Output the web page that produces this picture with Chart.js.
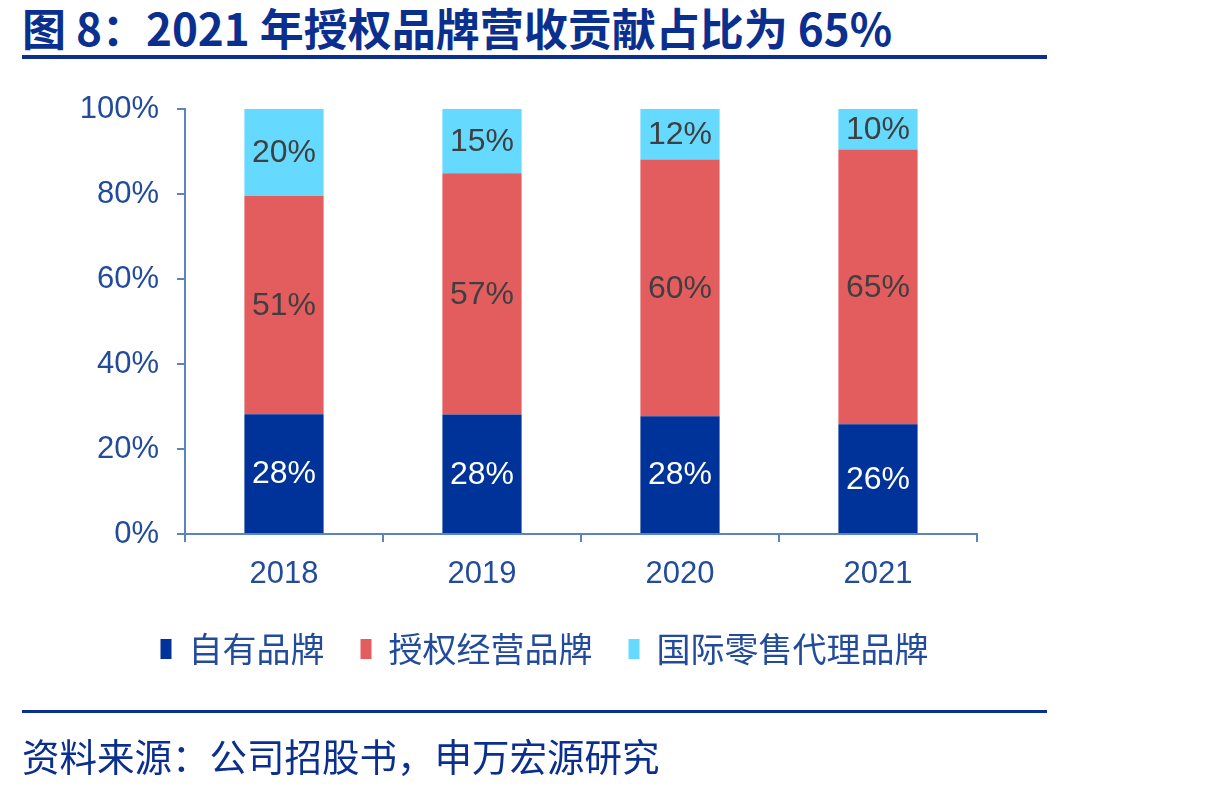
<!DOCTYPE html>
<html><head><meta charset="utf-8">
<script src="https://cdn.jsdelivr.net/npm/chart.js@4.4.1/dist/chart.umd.min.js"></script>
<style>
html,body{margin:0;padding:0;background:#fff;width:1217px;height:787px;overflow:hidden;position:relative;}
#title{position:absolute;left:22px;top:1px;font-family:"Noto Sans CJK SC",sans-serif;font-weight:700;font-size:44px;color:#0b2f8f;white-space:nowrap;line-height:52px;}
.rule{position:absolute;left:22px;width:1025px;background:#0b2f8f;}
#source{position:absolute;left:22px;top:730px;font-family:"Noto Sans CJK SC",sans-serif;font-size:37.5px;color:#0b2f8f;white-space:nowrap;line-height:50px;}
#wrap{position:absolute;left:0;top:0;width:1217px;height:787px;}
</style></head>
<body>
<div id="title">图 8：2021 年授权品牌营收贡献占比为 65%</div>
<div class="rule" style="top:55px;height:4px;"></div>
<div id="wrap"><canvas id="c" width="1217" height="787"></canvas></div>
<div class="rule" style="top:710px;height:3px;"></div>
<div id="source">资料来源：公司招股书，申万宏源研究</div>
<script>
const categories = ['2018', '2019', '2020', '2021'];
const seriesNames = ['自有品牌', '授权经营品牌', '国际零售代理品牌'];
const ownBrand = [28.2, 28.1, 27.7, 25.8];
const licensedBrand = [51.4, 56.8, 60.4, 64.7];
const agencyBrand = [20.4, 15.1, 11.9, 9.5];
const yTicks = [0, 20, 40, 60, 80, 100];

const axisColor = '#5a84c0';
const tickColor = '#234b9c';
const font = 'Liberation Sans, Arial, sans-serif';

const labelPlugin = {
  id: 'segLabels',
  afterLayout(chart) {
    if (chart.legend) { chart.legend.left += 112; }
  },
  afterDatasetsDraw(chart) {
    const ctx = chart.ctx;
    ctx.save();
    ctx.font = '32px ' + font;
    ctx.textAlign = 'center';
    ctx.textBaseline = 'middle';
    chart.data.datasets.forEach((ds, i) => {
      const meta = chart.getDatasetMeta(i);
      meta.data.forEach((bar, j) => {
        const v = ds.data[j];
        const p = bar.getProps(['x', 'y', 'base'], true);
        ctx.fillStyle = i === 0 ? '#ffffff' : '#3f3f3f';
        ctx.fillText(Math.round(v) + '%', p.x, (p.y + p.base) / 2 + 1);
      });
    });
    ctx.restore();
  }
};

new Chart(document.getElementById('c'), {
  type: 'bar',
  data: {
    labels: categories,
    datasets: [
      { label: seriesNames[0], data: ownBrand, backgroundColor: '#003399' },
      { label: seriesNames[1], data: licensedBrand, backgroundColor: '#e35d5e' },
      { label: seriesNames[2], data: agencyBrand, backgroundColor: '#66d9ff' }
    ]
  },
  options: {
    responsive: false,
    animation: false,
    events: [],
    layout: { padding: { left: 0, right: 240, top: 109, bottom: 111 } },
    datasets: { bar: { categoryPercentage: 1, barPercentage: 0.4 } },
    scales: {
      x: {
        stacked: true,
        grid: { display: true, offset: true, drawOnChartArea: false, drawTicks: true, tickLength: 8, color: axisColor, lineWidth: 2 },
        border: { display: true, color: axisColor, width: 2 },
        ticks: { color: tickColor, font: { family: font, size: 31 }, padding: 14 },
        afterFit(s) { s.height = 62; }
      },
      y: {
        stacked: true,
        min: 0, max: 100,
        afterBuildTicks(s) { s.ticks = yTicks.map(v => ({ value: v })); },
        grid: { display: true, drawOnChartArea: false, drawTicks: true, tickLength: 8, color: axisColor, lineWidth: 2 },
        border: { display: true, color: axisColor, width: 2 },
        ticks: { color: tickColor, font: { family: font, size: 31 }, padding: 18, callback: v => v + '%' },
        afterFit(s) { s.width = 185; }
      }
    },
    plugins: {
      legend: {
        position: 'bottom',
        labels: { color: tickColor, font: { family: '"Noto Sans CJK SC", sans-serif', size: 34 }, boxWidth: 11, boxHeight: 20, padding: 36 }
      },
      tooltip: { enabled: false }
    }
  },
  plugins: [labelPlugin]
});
</script>
</body></html>
